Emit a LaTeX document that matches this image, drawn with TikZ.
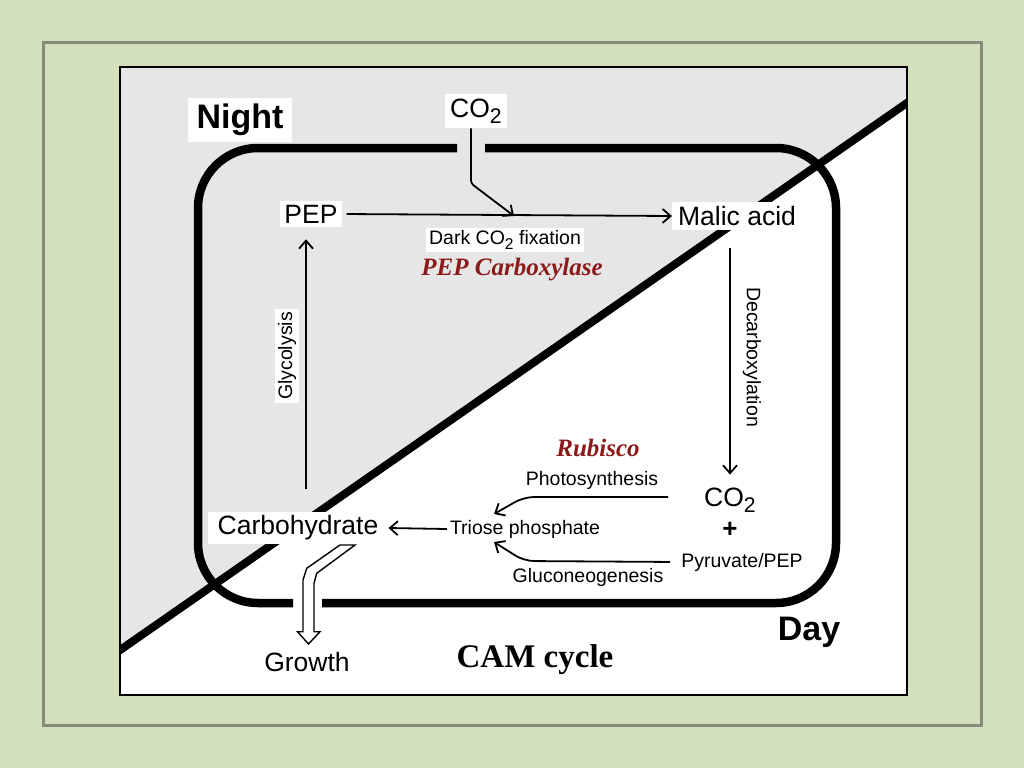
\documentclass[tikz,border=0pt]{standalone}
\usepackage{fontspec}
\setmainfont{Liberation Serif}
\setsansfont{Liberation Sans}
\usepackage{graphicx}
\usetikzlibrary{arrows.meta}
\definecolor{bggreen}{HTML}{D3E0BC}
\definecolor{framegrey}{HTML}{858C7E}
\definecolor{nightgrey}{HTML}{E6E6E6}
\definecolor{enzred}{HTML}{8B1A1A}
\newcommand{\subtwo}{\raisebox{-0.42ex}{\scalebox{0.8}{2}}}
\begin{document}
\begin{tikzpicture}[x=1pt,y=-1pt,
  lbl/.style={font=\sffamily\fontsize{26.5}{30}\selectfont, inner sep=4pt},
  wlbl/.style={lbl, fill=white},
  sm/.style={font=\sffamily\fontsize{19.5}{23}\selectfont, inner sep=3pt},
  wsm/.style={sm, fill=white},
  bigsf/.style={font=\sffamily\bfseries\fontsize{34}{38}\selectfont, inner sep=6pt},
  enz/.style={font=\rmfamily\bfseries\itshape\fontsize{25}{30}\selectfont, text=enzred, inner sep=2pt},
  arr/.style={line width=1.8pt, -{Straight Barb[length=8pt,width=14pt]}},
  cell/.style={line width=8.5pt, rounded corners=60pt},
]
\useasboundingbox (0,0) rectangle (1024,768);
\fill[bggreen] (0,0) rectangle (1024,768);
\draw[framegrey, line width=3pt] (43,43) rectangle (981,725);
\fill[white] (120,67) rectangle (907,695);
\fill[nightgrey] (120,67) -- (907,67) -- (907,103) -- (120,650) -- cycle;
\begin{scope}
  \clip (120,67) rectangle (907,695);
  \draw[line width=8pt] (100,664) -- (927,89);
\end{scope}
\draw[line width=2.5pt] (120,67) rectangle (907,695);
% cell outline with two gaps
\draw[cell] (485,148) -- (836,148) -- (836,603) -- (322,603);
\draw[cell] (293,603) -- (198,603) -- (198,148) -- (457,148);
% labels
\node[bigsf, fill=white, inner xsep=9pt, inner ysep=6pt] (night) at (240,120) {Night};
\node[lbl, fill=white, inner sep=5pt] (co2top) at (476,111) {CO\subtwo};
\node[wlbl] (pep) at (311,214) {PEP};
\node[wlbl, inner xsep=6pt] (malic) at (737,216) {Malic acid};
\node[wsm] (dark) at (505,240) {Dark CO\subtwo\ fixation};
\node[enz] (pepc) at (512,270) {PEP Carboxylase};
\node[wsm, rotate=90] (glyc) at (287,356) {Glycolysis};
\node[sm, rotate=-90] (decarb) at (752,357) {Decarboxylation};
\node[enz] (rubisco) at (598,448) {Rubisco};
\node[sm] (photo) at (592,480) {Photosynthesis};
\node[lbl] (co2r) at (730,500) {CO\subtwo};
\node[font=\sffamily\bfseries\fontsize{26}{30}\selectfont, inner sep=1pt] (plus) at (730,530) {+};
\node[sm] (pyr) at (742,562) {Pyruvate/PEP};
\node[sm] (triose) at (525,529) {Triose phosphate};
\node[sm] (gluco) at (588,577) {Gluconeogenesis};
\node[wlbl, inner xsep=10pt] (carb) at (298,528) {Carbohydrate};
\node[lbl] (growth) at (307,662) {Growth};
\node[bigsf] (day) at (809,632) {Day};
\node[font=\rmfamily\bfseries\fontsize{33}{38}\selectfont] (cam) at (535,660) {CAM cycle};
% connectors
\coordinate (fix) at (514,216);
\coordinate (pstart) at (668,497);
\coordinate (pstip) at (494,514);
\coordinate (gltip) at (494,542);
\coordinate (gb) at (306,489);
\draw[arr, shorten <=5pt] (pep.east) -- (malic.west);
\draw[arr, rounded corners=3pt] ([xshift=-5pt]co2top.south) -- ++(0,55) -- (fix);
\draw[arr, shorten <=18pt, shorten >=9pt] (malic.south -| co2r.north) -- (co2r.north);
\draw[arr, rounded corners=10pt] (pstart) -- (524,497) -- (pstip);
\draw[arr, rounded corners=10pt, shorten <=8pt] (pyr.west) -- (524,561) -- (gltip);
\draw[arr] (triose.west) -- (carb.east);
\draw[arr, shorten >=12pt] (gb) -- (gb |- pep.south);
% growth hollow arrow
\draw[line width=1.4pt, fill=white, line join=miter]
  (340,545) -- (355,545) -- (316.7,573.3) -- (314,583.3) -- (314,631.7)
  -- (320,631.7) -- (308.5,644) -- (297.5,631.7) -- (303,631.7)
  -- (303,580) -- (306.7,568.3) -- cycle;
\end{tikzpicture}
\end{document}
